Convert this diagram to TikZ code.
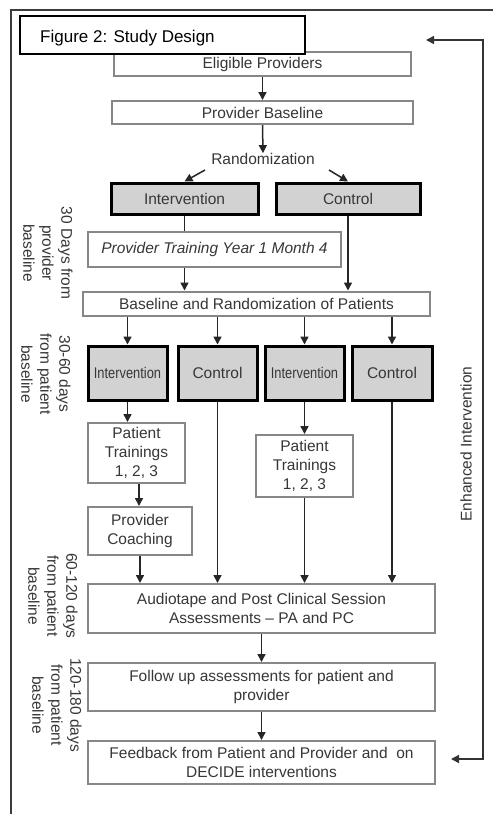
\documentclass[tikz,border=0pt]{standalone}
\usepackage{fontspec}
\setmainfont{Liberation Sans}
\usetikzlibrary{arrows.meta}
\definecolor{boxgray}{RGB}{135,135,135}
\definecolor{boxfill}{RGB}{210,210,210}
\definecolor{txt}{RGB}{55,55,55}
\definecolor{framegray}{RGB}{60,60,60}
\begin{document}
\begin{tikzpicture}[x=1pt,y=-1pt,
  every node/.style={font=\fontsize{15.5}{19}\selectfont, text=txt, inner sep=0pt, align=center},
  gbox/.style={draw=boxgray, line width=2pt, fill=white},
  dbox/.style={draw=black, line width=3pt, fill=boxfill},
  titlebox/.style={draw=black, line width=1.5pt, fill=white},
  arr/.style={draw=black!85, line width=1.5pt, -{Triangle[width=8pt,length=8pt]}},
  biarr/.style={draw=black!80, line width=1.5pt, {Triangle[width=8pt,length=8pt]}-{Triangle[width=8pt,length=8pt]}},
  ln/.style={draw=black!85, line width=1.5pt},
  lab/.style={rotate=-90}
]
\fill[white] (0,0) rectangle (493,814);
\useasboundingbox (0,0) rectangle (493,814);
% outer frame
\draw[framegray, line width=2pt] (11,814) -- (11,10) -- (493,10);

% provider level
\node[gbox, minimum width=297pt, minimum height=24pt] (elig) at (262.5,64) {Eligible Providers};
\node[gbox, minimum width=301pt, minimum height=23pt] (pbase) at (262.5,112.5) {Provider Baseline};
\node (rand) at (263,159) {Randomization};
\node[dbox, minimum width=147pt, minimum height=31pt] (pint) at (184.5,198.5) {Intervention};
\node[dbox, minimum width=144pt, minimum height=31pt] (pctl) at (348,198.5) {Control};
\node[gbox, minimum width=253pt, minimum height=35pt, font=\fontsize{15.5}{19}\selectfont\itshape] (ptrain) at (214.5,249.5) {Provider Training Year 1 Month 4};

% patient level
\node[gbox, minimum width=347pt, minimum height=24pt] (brand) at (256.5,303.5) {Baseline and Randomization of Patients};
\node[dbox, minimum width=79pt, minimum height=54pt] (i1) at (127.5,373) {\scalebox{0.83}[1]{Intervention}};
\node[dbox, minimum width=79pt, minimum height=54pt] (c1) at (217.5,373) {Control};
\node[dbox, minimum width=79pt, minimum height=54pt] (i2) at (304.5,373) {\scalebox{0.83}[1]{Intervention}};
\node[dbox, minimum width=80pt, minimum height=54pt] (c2) at (392,373) {Control};
\node[gbox, minimum width=97pt, minimum height=60pt] (pt1) at (136.5,453) {Patient\\Trainings\\1, 2, 3};
\node[gbox, minimum width=104pt, minimum height=48pt] (pc) at (140,531) {Provider\\Coaching};
\node[gbox, minimum width=97pt, minimum height=62pt] (pt2) at (304.5,466) {Patient\\Trainings\\1, 2, 3};
\node[gbox, minimum width=347pt, minimum height=49pt] (audio) at (261.5,608.5) {Audiotape and Post Clinical Session\\Assessments -- PA and PC};
\node[gbox, minimum width=347pt, minimum height=48pt] (follow) at (261.5,687) {Follow up assessments for patient and\\provider};
\node[gbox, minimum width=347pt, minimum height=43pt] (feed) at (261.5,762.5) {Feedback from Patient and Provider and\ \ on\\DECIDE interventions};

% title
\node[titlebox, minimum width=285pt, minimum height=38pt, anchor=north west] (title) at (19,15) {};
\node[anchor=base west, text=black, font=\fontsize{17}{19}\selectfont] (titletext) at (40,42) {Figure 2: Study Design};

% connectors
\draw[arr] (elig) -- (pbase);
\draw[arr] (pbase.south) -- (rand.north);
\coordinate (r1) at (205,170);
\coordinate (r2) at (329,170);
\draw[arr] (r1) -- (pint.north);
\draw[arr] (r2) -- (pctl.north);
\draw[ln] (pint.south) -- (pint.south |- ptrain.north);
\draw[arr] (pint.south |- ptrain.south) -- (pint.south |- brand.north);
\draw[arr] (pctl.south) -- (pctl.south |- brand.north);
\draw[arr] (i1.north |- brand.south) -- (i1.north);
\draw[arr] (c1.north |- brand.south) -- (c1.north);
\draw[arr] (i2.north |- brand.south) -- (i2.north);
\draw[arr] (c2.north |- brand.south) -- (c2.north);
\draw[arr] (i1.south) -- (i1.south |- pt1.north);
\draw[arr] ([xshift=2.5pt]pt1.south) -- ([xshift=2.5pt]pt1.south |- pc.north);
\draw[arr] (pc.south) -- (pc.south |- audio.north);
\draw[arr] (c1.south) -- (c1.south |- audio.north);
\draw[arr] (i2.south) -- (pt2.north);
\draw[arr] (pt2.south) -- (pt2.south |- audio.north);
\draw[arr] (c2.south) -- (c2.south |- audio.north);
\draw[arr] (audio) -- (follow);
\draw[arr] (follow) -- (feed);

% enhanced intervention loop
\coordinate (etop) at (426,40);
\coordinate (ecorner1) at (483,40);
\coordinate (ecorner2) at (483,759);
\coordinate (ebot) at (451,759);
\draw[biarr] (etop) -- (ecorner1) -- (ecorner2) -- (ebot);
\node[rotate=90] (enh) at (466,444) {Enhanced Intervention};

% time labels
\node[lab] (l1) at (48,253) {30 Days from\\provider\\baseline};
\node[lab] (l2) at (46,374) {30-60 days\\from patient\\baseline};
\node[lab] (l3) at (53,596) {60-120 days\\from patient\\baseline};
\node[lab] (l4) at (57,705) {120-180 days\\from patient\\baseline};
\end{tikzpicture}
\end{document}
